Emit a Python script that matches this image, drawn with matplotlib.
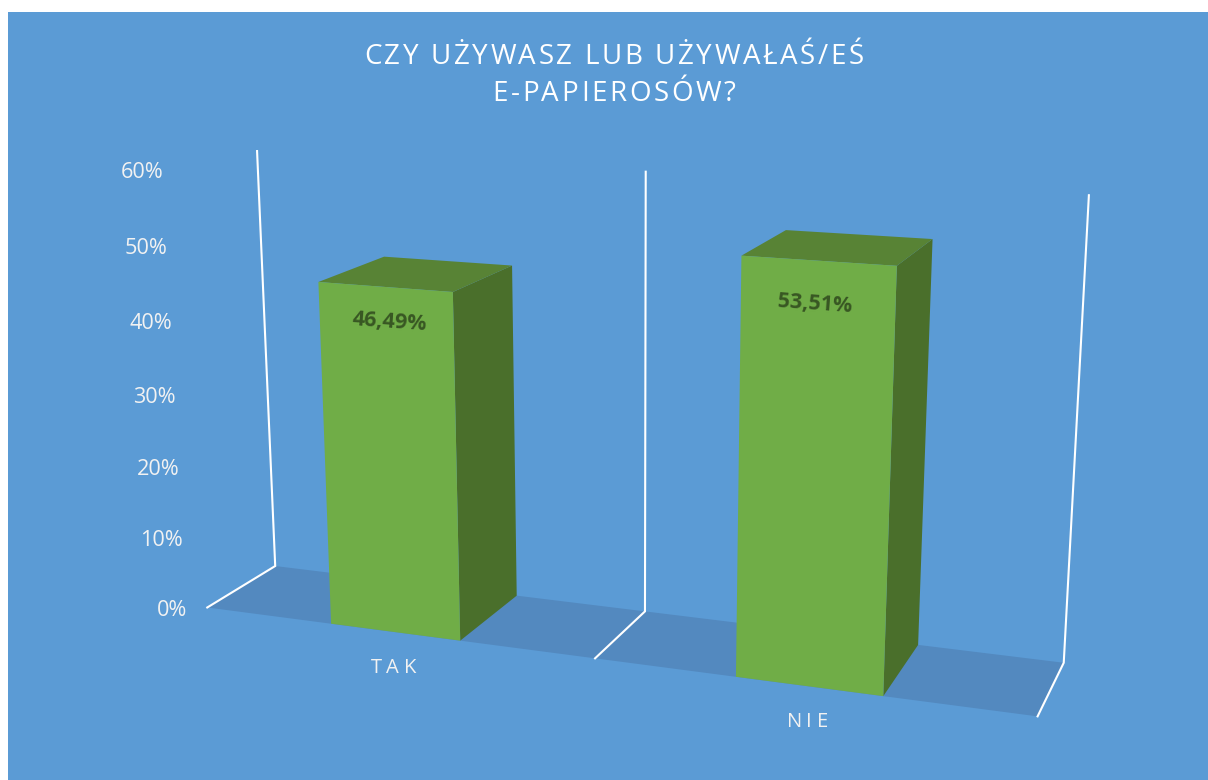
import numpy as np
import matplotlib
matplotlib.use("Agg")
import matplotlib.pyplot as plt
from matplotlib.text import Text
from matplotlib.transforms import IdentityTransform, Bbox
from matplotlib.font_manager import findfont, get_font
from matplotlib.ft2font import LoadFlags

# ---- data ----
categories = ["TAK", "NIE"]
values = [46.49, 53.51]
value_labels = ["46,49%", "53,51%"]
y_ticks = [0, 10, 20, 30, 40, 50, 60]
y_tick_labels = ["0%", "10%", "20%", "30%", "40%", "50%", "60%"]
title_lines = ["CZY UŻYWASZ LUB UŻYWAŁAŚ/EŚ", "E-PAPIEROSÓW?"]

# ---- style ----
W, H = 1208, 780
BG = "#5B9BD5"
FLOOR = "#5389BF"
FRONT = "#70AD47"
SIDE = "#4A6F2B"
TOP = "#588335"
LABEL_DARK = "#385723"
BAR_L, BAR_R = 1 / 3, 2 / 3

# camera calibration: (category pos, value, depth) -> reference pixel
calib_world = [
    (0, 0, 0), (0, 0, 1), (0, 60, 1),
    (1, 0, 0), (1, 0, 1), (1, 60, 1),
    (2, 0, 0), (2, 0, 1), (2, 60, 1),
    (BAR_L, 0, 0), (BAR_R, 0, 0), (BAR_R, 0, 1),
    (BAR_L, 46.49, 0), (BAR_R, 46.49, 0), (BAR_R, 46.49, 1), (BAR_L, 46.49, 1),
    (1 + BAR_L, 0, 0), (1 + BAR_R, 0, 0), (1 + BAR_R, 0, 1),
    (1 + BAR_L, 53.51, 0), (1 + BAR_R, 53.51, 0), (1 + BAR_R, 53.51, 1), (1 + BAR_L, 53.51, 1),
]
calib_px = [
    (207, 607), (275, 566), (257, 151),
    (594, 659), (645, 611), (645, 171),
    (1037, 716), (1064, 663), (1089, 195),
    (331, 624), (461, 640), (517, 596),
    (318, 282), (453, 292), (512, 266), (385, 257),
    (736, 677), (884, 696), (918, 645),
    (742, 256), (897, 266), (932, 239), (786, 230),
]


def fit_camera(world, px):
    rows = []
    for (X, Y, Z), (u, v) in zip(world, px):
        p = [X, Y / 60, Z, 1]
        rows.append(p + [0, 0, 0, 0] + [-u * c for c in p])
        rows.append([0, 0, 0, 0] + p + [-v * c for c in p])
    _, _, vt = np.linalg.svd(np.array(rows, float))
    return vt[-1].reshape(3, 4)


CAM = fit_camera(calib_world, calib_px)


def proj(x, y, z):
    q = CAM @ np.array([x, y / 60, z, 1.0])
    return q[0] / q[2], q[1] / q[2]


class SpacedText(Text):
    """Centred, baseline-anchored text with letter spacing given in pixels."""

    def __init__(self, x, y, text, spacing=0.0, **kw):
        super().__init__(x, y, text, ha="center", va="baseline", **kw)
        self._spacing = spacing

    def _advances(self):
        fp = self.get_fontproperties()
        font = get_font(findfont(fp))
        font.set_size(fp.get_size_in_points(), self.get_figure().dpi)
        return [font.load_char(ord(c), flags=LoadFlags.NO_HINTING).linearHoriAdvance / 65536
                for c in self.get_text()]

    def draw(self, renderer):
        adv = self._advances()
        total = sum(adv) + self._spacing * (len(adv) - 1)
        tx, ty = self.get_transform().transform(self.get_position())
        x = tx - total / 2
        for c, a in zip(self.get_text(), adv):
            if c != " ":
                t = Text(x, ty, c, fontproperties=self.get_fontproperties(), color=self.get_color(),
                         ha="left", va="baseline", transform=IdentityTransform())
                t.set_figure(self.get_figure())
                t.draw(renderer)
            x += a + self._spacing

    def get_window_extent(self, renderer=None, dpi=None):
        b = super().get_window_extent(renderer, dpi)
        pad = self._spacing * (len(self.get_text()) - 1) / 2
        return Bbox.from_extents(b.x0 - pad, b.y0, b.x1 + pad, b.y1)


fig = plt.figure(figsize=(W / 100, H / 100), dpi=100, facecolor="white")
ax = fig.add_axes([8 / W, 0, (W - 8) / W, (H - 12) / H], facecolor=BG)
ax.set_xlim(8, W)
ax.set_ylim(H, 12)
ax.set_xticks([])
ax.set_yticks([])
for s in ax.spines.values():
    s.set_visible(False)

FONT = "Open Sans"

# floor
ax.fill(*zip(proj(0, 0, 0), proj(0, 0, 1), proj(2, 0, 1), proj(2, 0, 0)),
        color=FLOOR, lw=0, zorder=1)

# walls at each category boundary
for b in range(len(categories) + 1):
    ax.plot(*zip(proj(b, 0, 0), proj(b, 0, 1), proj(b, 60, 1)),
            color="white", lw=1.5, solid_joinstyle="miter", zorder=2)

# bars
for i, v in enumerate(values):
    l, r = i + BAR_L, i + BAR_R
    ax.fill(*zip(proj(r, 0, 0), proj(r, 0, 1), proj(r, v, 1), proj(r, v, 0)),
            color=SIDE, lw=0, zorder=3)
    ax.fill(*zip(proj(l, v, 0), proj(r, v, 0), proj(r, v, 1), proj(l, v, 1)),
            color=TOP, lw=0, zorder=3)
    ax.fill(*zip(proj(l, 0, 0), proj(r, 0, 0), proj(r, v, 0), proj(l, v, 0)),
            color=FRONT, lw=0, zorder=4)

# value labels
for i, (v, t, d) in enumerate(zip(values, value_labels, [(5, 35), (-3, 43)])):
    px, py = proj(i + 0.5, v, 0)
    ax.text(px + d[0], py + d[1], t, color=LABEL_DARK, fontsize=15.5, fontweight="bold",
            family=FONT, rotation=-4, rotation_mode="anchor", ha="center", va="center", zorder=5)

# value axis labels
for v, t in zip(y_ticks, y_tick_labels):
    px, py = proj(0, v, 0)
    ax.text(px - 20.5, py + 3, t, color="#F2F2F2", fontsize=15.6, family=FONT,
            ha="right", va="center", zorder=5)

# category labels
for i, c in enumerate(categories):
    px, py = proj(i + 0.5, 0, 0)
    ax.add_artist(SpacedText(px - 1.5, py + 41, c, spacing=4.5, color="#F2F2F2", fontsize=14.5,
                             family=FONT, zorder=5))

# title
for t, y in zip(title_lines, [64, 101]):
    ax.add_artist(SpacedText(614, y, t, spacing=2.6, color="white", fontsize=20,
                             family=FONT, zorder=5))

fig.savefig("out.png", dpi=100, facecolor="white")
